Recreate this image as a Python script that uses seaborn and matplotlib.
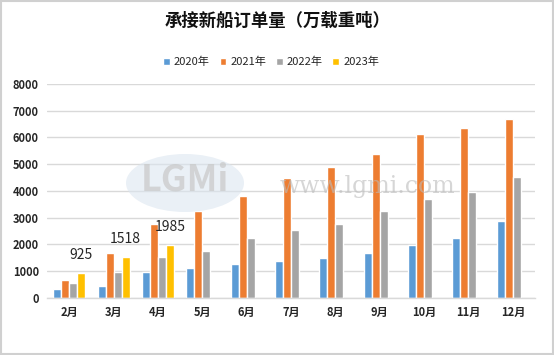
import numpy as np
import pandas as pd
import seaborn as sns
import matplotlib
matplotlib.use("Agg")
import matplotlib.pyplot as plt
from matplotlib.patches import Ellipse, Rectangle

months = ["2月", "3月", "4月", "5月", "6月", "7月", "8月", "9月", "10月", "11月", "12月"]
years = ["2020年", "2021年", "2022年", "2023年"]
v2020 = [320, 450, 960, 1130, 1260, 1390, 1490, 1680, 1965, 2240, 2885]
v2021 = [680, 1700, 2770, 3250, 3830, 4490, 4890, 5390, 6140, 6360, 6700]
v2022 = [550, 970, 1530, 1750, 2250, 2560, 2770, 3250, 3710, 3970, 4530]
v2023 = [925, 1518, 1985, np.nan, np.nan, np.nan, np.nan, np.nan, np.nan, np.nan, np.nan]
yticks = [0, 1000, 2000, 3000, 4000, 5000, 6000, 7000, 8000]
title = "承接新船订单量（万载重吨）"

colors = ["#5B9BD5", "#ED7D31", "#A5A5A5", "#FFC000"]

rows = []
for yr, vals in zip(years, [v2020, v2021, v2022, v2023]):
    for m, v in zip(months, vals):
        rows.append({"month": m, "year": yr, "value": v})
df = pd.DataFrame(rows)

sns.set_theme(style="white")
plt.rcParams['font.family'] = ['Noto Sans CJK SC', 'DejaVu Sans']

fig = plt.figure(figsize=(5.54, 3.55), dpi=100)
ax = fig.add_axes([0.085, 0.1606, 0.8807, 0.6028])

# watermark
fig.patches.append(Ellipse((185 / 554, 1 - 183 / 355), 118 / 554, 58 / 355,
                           transform=fig.transFigure, facecolor="#DCE6F0",
                           edgecolor="none", alpha=0.6, zorder=0))

sns.barplot(data=df, x="month", y="value", hue="year", order=months,
            hue_order=years, palette=colors, width=0.72, saturation=1,
            ax=ax, zorder=2, legend=True)

ax.set_ylim(0, 8000)
ax.set_yticks(yticks)
ax.set_yticklabels([str(t) for t in yticks], fontsize=8, fontweight="bold", color="#262626")
ax.set_xticks(range(len(months)))
ax.set_xticklabels(months, fontsize=8, fontweight="bold", color="#262626")
ax.set_xlabel("")
ax.set_ylabel("")
ax.tick_params(axis="both", length=0, pad=6)
ax.set_xlim(-0.5, len(months) - 0.5)
ax.grid(axis="y", color="#D9D9D9", linewidth=1, zorder=0)
ax.set_axisbelow(True)
for s in ["top", "right", "left"]:
    ax.spines[s].set_visible(False)
ax.spines["bottom"].set_color("#D9D9D9")
ax.spines["bottom"].set_linewidth(1)

# data labels for 2023
cont = ax.containers[3]
ax.bar_label(cont, labels=[f"{int(v)}" for v in v2023 if not np.isnan(v)],
             padding=8, fontsize=10, color="#262626")

handles, labels = ax.get_legend_handles_labels()
ax.legend_.remove()
fig.legend(handles, labels, loc="center", bbox_to_anchor=(271 / 554, 1 - 62 / 355),
           ncol=4, frameon=False, fontsize=8, handlelength=0.6, handleheight=0.6,
           handletextpad=0.35, columnspacing=0.9, labelcolor="#262626")

fig.text(278 / 554, 1 - 21 / 355, title, ha="center", va="center",
         fontsize=12.5, fontweight="bold", color="#111111")

fig.text(185 / 554, 1 - 180 / 355, "LGMi", ha="center", va="center",
         fontsize=26, color="#C8C8C8", alpha=0.7, fontweight="bold", zorder=1)
fig.text(367 / 554, 1 - 187 / 355, "www.lgmi.com", ha="center", va="center",
         fontsize=17, color="#BBBBBB", alpha=0.6, family="DejaVu Serif", zorder=1)

fig.patches.append(Rectangle((0.002, 0.003), 0.996, 0.994, transform=fig.transFigure,
                             fill=False, edgecolor="#D0D0D0", linewidth=1.5))

fig.savefig("out.png", dpi=100)
